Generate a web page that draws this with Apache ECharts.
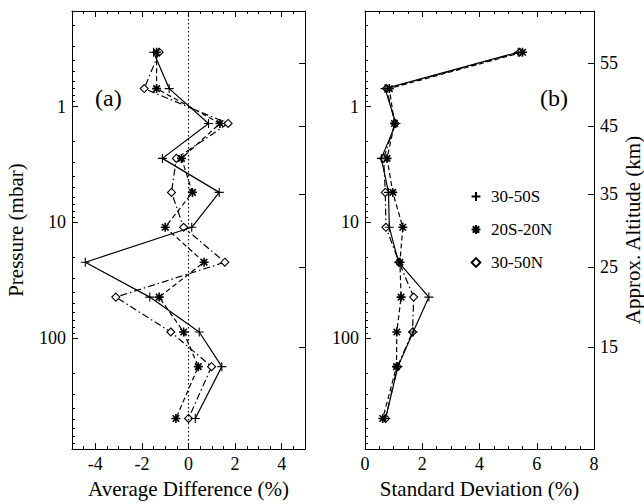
<!DOCTYPE html>
<html><head><meta charset="utf-8">
<script src="https://cdn.jsdelivr.net/npm/echarts@6/dist/echarts.min.js"></script>
<style>html,body{margin:0;padding:0;background:#fff}#c{width:644px;height:504px}</style>
</head><body><div id="c"></div><script>
// ---- data ----
const pressures = [0.34, 0.7, 1.4, 2.8, 5.5, 11, 22, 44, 88, 175, 490];
const seriesNames = ['30-50S', '20S-20N', '30-50N'];
const avgS  = [-1.50, -0.83, 0.86, -1.12, 1.32, 0.14, -4.43, -1.66, 0.46, 1.43, 0.29];
const avgEq = [-1.37, -1.37, 1.35, -0.30, 0.17, -1.00, 0.67, -1.26, -0.21, 0.42, -0.54];
const avgN  = [-1.26, -1.90, 1.70, -0.52, -0.73, -0.21, 1.56, -3.12, -0.76, 0.99, 0.00];
const sdS   = [5.35, 0.70, 1.08, 0.57, 0.82, 0.85, 1.17, 2.23, 1.68, 1.15, 0.72];
const sdEq  = [5.50, 0.85, 1.03, 0.77, 0.97, 1.32, 1.22, 1.26, 1.11, 1.10, 0.62];
const sdN   = [5.40, 0.75, 1.05, 0.65, 0.71, 0.73, 1.19, 1.70, 1.66, 1.13, 0.72];
const pressureTickLabels = [1, 10, 100];
const altitudeTickLabels = [55, 45, 35, 25, 15];
const altitudeTickPressures = [0.42, 1.47, 5.7, 24.4, 118];
const avgTickLabels = [-4, -2, 0, 2, 4];
const sdTickLabels = [0, 2, 4, 6, 8];
const pressureRange = [0.15, 900];
const avgRange = [-5, 5];
const sdRange = [0, 8];

// ---- helpers ----
const FONT = '"Liberation Serif", "Times New Roman", serif';
const lg = p => Math.log10(p);
const yMin = lg(pressureRange[0]), yMax = lg(pressureRange[1]);
const logMinor = [];
for (let d = -1; d <= 2; d++) for (let m = 2; m <= 9; m++) {
  const p = m * Math.pow(10, d);
  if (p > pressureRange[0] && p < pressureRange[1]) logMinor.push(lg(p));
}
function halfSteps(a, b, majors) {
  const out = [];
  for (let v = a; v <= b + 1e-9; v += 0.5) if (!majors.includes(v)) out.push(v);
  return out;
}
const sym = {
  plus: 'path://M5,0L5,10M0,5L10,5',
  star: 'path://M5,0L5,10M0,5L10,5M1.4,1.4L8.6,8.6M8.6,1.4L1.4,8.6',
  diamond: 'diamond'
};
const styles = [
  { symbol: sym.plus, size: 9, line: 'solid' },
  { symbol: sym.star, size: 9, line: [5, 3] },
  { symbol: sym.diamond, size: 8, line: [7, 3, 1.5, 3] }
];
const black = '#000';
const lineAx = { show: true, onZero: false, lineStyle: { color: black, width: 1 } };
const noLine = { show: false, onZero: false };
const txt = { color: black, fontFamily: FONT, fontSize: 18 };
const nameTxt = { color: black, fontFamily: FONT, fontSize: 21 };

function xAxes(grid, range, labels, name) {
  const minor = halfSteps(range[0], range[1], labels);
  const base = { type: 'value', gridIndex: grid, min: range[0], max: range[1], splitLine: { show: false } };
  return [
    Object.assign({}, base, { position: 'bottom', axisLine: lineAx,
      axisTick: { inside: true, length: 6, customValues: labels, lineStyle: { color: black } },
      axisLabel: Object.assign({ customValues: labels, margin: 6 }, txt),
      name: name, nameLocation: 'middle', nameGap: 26, nameTextStyle: nameTxt }),
    Object.assign({}, base, { position: 'bottom', axisLine: noLine,
      axisTick: { inside: true, length: 3, customValues: minor, lineStyle: { color: black } },
      axisLabel: { show: false } }),
    Object.assign({}, base, { position: 'top', axisLine: lineAx,
      axisTick: { inside: true, length: 6, customValues: labels, lineStyle: { color: black } },
      axisLabel: { show: false } }),
    Object.assign({}, base, { position: 'top', axisLine: noLine,
      axisTick: { inside: true, length: 3, customValues: minor, lineStyle: { color: black } },
      axisLabel: { show: false } })
  ];
}
function yAxes(grid, leftName, showAlt) {
  const base = { type: 'value', gridIndex: grid, min: yMin, max: yMax, inverse: true, splitLine: { show: false } };
  const major = pressureTickLabels.map(lg);
  const alt = altitudeTickPressures.map(lg);
  return [
    Object.assign({}, base, { position: 'left', axisLine: lineAx,
      axisTick: { inside: true, length: 6, customValues: major, lineStyle: { color: black } },
      axisLabel: Object.assign({ customValues: major, margin: 6,
        formatter: v => String(pressureTickLabels[major.findIndex(m => Math.abs(m - v) < 1e-6)]) }, txt),
      name: leftName, nameLocation: 'middle', nameGap: 46, nameRotate: 90, nameTextStyle: nameTxt }),
    Object.assign({}, base, { position: 'left', axisLine: noLine,
      axisTick: { inside: true, length: 3, customValues: logMinor, lineStyle: { color: black } },
      axisLabel: { show: false } }),
    Object.assign({}, base, { position: 'right', axisLine: lineAx,
      axisTick: { inside: true, length: 6, customValues: alt, lineStyle: { color: black } },
      axisLabel: Object.assign({ show: showAlt, customValues: alt, margin: 6,
        formatter: v => String(altitudeTickLabels[alt.findIndex(m => Math.abs(m - v) < 1e-6)]) }, txt),
      name: showAlt ? 'Approx. Altitude (km)' : '', nameLocation: 'middle', nameGap: 23, nameRotate: 90,
      nameTextStyle: nameTxt })
  ];
}
function makeSeries(vals, k, xi, yi) {
  const st = styles[k];
  return {
    type: 'line', name: seriesNames[k], xAxisIndex: xi, yAxisIndex: yi,
    data: vals.map((v, i) => [v, lg(pressures[i])]),
    symbol: st.symbol, symbolSize: st.size, showAllSymbol: true,
    lineStyle: { color: black, width: 1.2, type: st.line },
    itemStyle: { color: '#fff', borderColor: black, borderWidth: k === 1 ? 1.6 : 1.1 },
    emphasis: { disabled: true }, animation: false, z: 3 - k
  };
}
const seriesA = [avgS, avgEq, avgN].map((v, k) => makeSeries(v, k, 0, 0));
const seriesB = [sdS, sdEq, sdN].map((v, k) => makeSeries(v, k, 4, 3));
seriesA[0].markLine = {
  silent: true, symbol: 'none', label: { show: false },
  lineStyle: { type: [1.5, 2.5], color: black, width: 1.2 },
  data: [{ xAxis: 0 }]
};

const chart = echarts.init(document.getElementById('c'), null, { renderer: 'svg' });
chart.setOption({
  backgroundColor: '#fff',
  animation: false,
  grid: [
    { left: 72, top: 11, width: 233, height: 442 },
    { left: 365, top: 11, width: 232, height: 442 }
  ],
  xAxis: xAxes(0, avgRange, avgTickLabels, 'Average Difference (%)')
    .concat(xAxes(1, sdRange, sdTickLabels, 'Standard Deviation (%)')),
  yAxis: yAxes(0, 'Pressure (mbar)', false).concat(yAxes(1, '', true)),
  legend: {
    orient: 'vertical', left: 460, top: 183, itemGap: 16,
    itemWidth: 20, itemHeight: 11, itemTextGap: 6,
    selectedMode: false,
    lineStyle: { opacity: 0 },
    textStyle: { color: black, fontFamily: FONT, fontSize: 17 },
    data: seriesNames
  },
  graphic: [
    { type: 'text', left: 95, top: 86, style: { text: '(a)', font: '24px "Liberation Serif"', fill: black } },
    { type: 'text', left: 540, top: 86, style: { text: '(b)', font: '24px "Liberation Serif"', fill: black } }
  ],
  series: seriesA.concat(seriesB)
});
</script></body></html>
